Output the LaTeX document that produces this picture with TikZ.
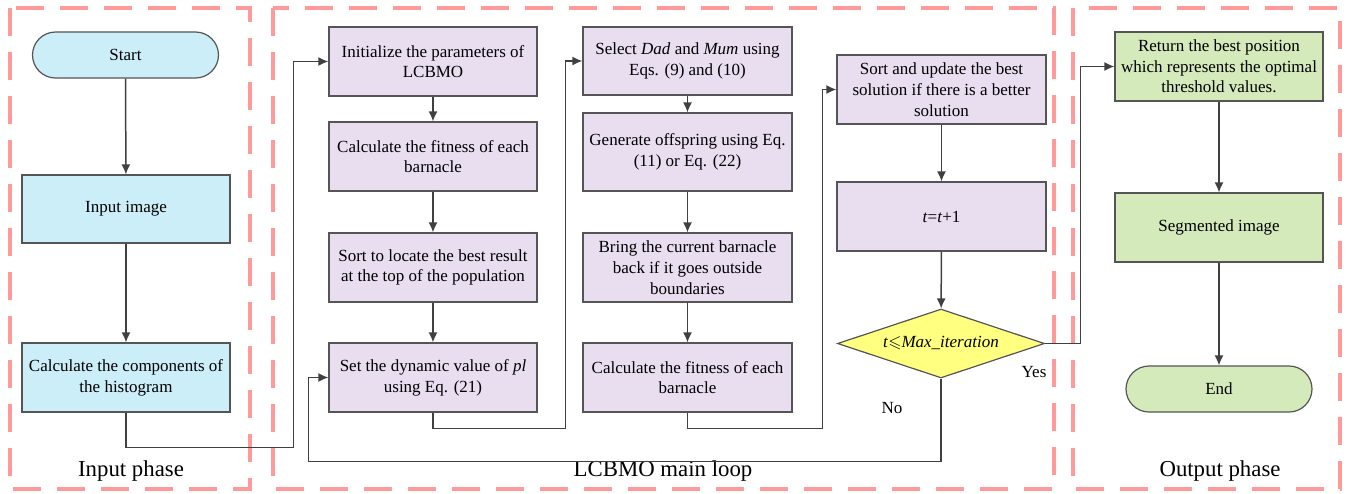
\documentclass[tikz,border=0pt]{standalone}
\usepackage{fontspec}
\setmainfont{Liberation Serif}
\usepackage{amssymb}
\usetikzlibrary{arrows.meta,shapes.geometric}

\definecolor{phasered}{HTML}{FF9A9A}
\definecolor{inblue}{HTML}{CCEEF9}
\definecolor{looplilac}{HTML}{E8DEF0}
\definecolor{outgreen}{HTML}{D5EABB}
\definecolor{condyellow}{HTML}{FFFF80}
\definecolor{boxgray}{HTML}{555555}
\definecolor{linegray}{HTML}{404040}

\tikzset{
  phase/.style={draw=phasered, line width=4pt, dash pattern=on 28pt off 16pt},
  phaselabel/.style={font=\fontsize{22.8}{26}\selectfont},
  procbox/.style={draw=boxgray, line width=1.2pt, minimum width=208pt, minimum height=69pt,
    inner sep=0pt, align=center, font=\fontsize{17}{20.7}\selectfont},
  termbox/.style={procbox, minimum width=186pt, minimum height=46pt, rounded corners=23pt},
  condbox/.style={procbox, shape=diamond, aspect=3, fill=condyellow, minimum width=207pt, minimum height=69pt},
  flow/.style={draw=linegray, line width=1.5pt, -{Latex[length=10pt,width=9pt]}},
  flowlabel/.style={font=\fontsize{17}{20.7}\selectfont}
}

\begin{document}
\begin{tikzpicture}[x=1pt, y=-1pt]
  \useasboundingbox (0,0) rectangle (1348,493);

  % phases
  \draw[phase] (10,8) rectangle (250,489);
  \draw[phase] (273,8) rectangle (1054,489);
  \draw[phase] (1073,8) rectangle (1340,489);
  \node[phaselabel] (inlab) at (131,471) {Input phase};
  \node[phaselabel] (looplab) at (663,471) {LCBMO main loop};
  \node[phaselabel] (outlab) at (1220,471) {Output phase};

  % input phase
  \node[termbox, fill=inblue] (start) at (125.5,55) {Start};
  \node[procbox, fill=inblue, minimum height=68pt] (inimg) at (126,209) {Input image};
  \node[procbox, fill=inblue] (hist) at (126,377.5) {Calculate the components of\\the histogram};

  % main loop
  \node[procbox, fill=looplilac] (init) at (433,61.5) {Initialize the parameters of\\LCBMO};
  \node[procbox, fill=looplilac] (fita) at (433,156.5) {Calculate the fitness of each\\barnacle};
  \node[procbox, fill=looplilac] (sorttop) at (433,267.5) {Sort to locate the best result\\at the top of the population};
  \node[procbox, fill=looplilac] (setpl) at (433,377.5) {Set the dynamic value of \textit{pl}\\using Eq. (21)};

  \node[procbox, fill=looplilac, minimum width=209pt, minimum height=68pt] (sel) at (687.5,61) {Select \textit{Dad} and \textit{Mum} using\\Eqs. (9) and (10)};
  \node[procbox, fill=looplilac, minimum width=209pt, minimum height=78pt] (gen) at (687.5,152) {Generate offspring using Eq.\\(11) or Eq. (22)};
  \node[procbox, fill=looplilac, minimum width=209pt] (bring) at (687.5,267.5) {Bring the current barnacle\\back if it goes outside\\boundaries};
  \node[procbox, fill=looplilac, minimum width=209pt] (fitb) at (687.5,377.5) {Calculate the fitness of each\\barnacle};

  \node[procbox, fill=looplilac, minimum width=209pt] (upd) at (941.5,89.5) {Sort and update the best\\solution if there is a better\\solution};
  \node[procbox, fill=looplilac, minimum width=209pt] (inc) at (941.5,216.5) {\textit{t}=\textit{t}+1};
  \node[condbox] (cond) at (941,343.5) {\textit{t}$\leqslant$\textit{Max\_iteration}};

  % output phase
  \node[procbox, fill=outgreen] (ret) at (1219,66.5) {Return the best position\\which represents the optimal\\threshold values.};
  \node[procbox, fill=outgreen] (seg) at (1219,227.5) {Segmented image};
  \node[termbox, fill=outgreen] (fin) at (1219,389) {End};

  % connectors
  \draw[flow] (start) -- (inimg);
  \draw[flow] (inimg) -- (hist);
  \draw[flow] (hist.south) -- ++(0,35) -| ([xshift=-35pt]init.west) -- (init.west);

  \draw[flow] (init) -- (fita);
  \draw[flow] (fita) -- (sorttop);
  \draw[flow] (sorttop) -- (setpl);
  \draw[flow] (setpl.south) -- ++(0,16) -| ([xshift=-17pt]sel.west) -- (sel.west);

  \draw[flow] (sel) -- (gen);
  \draw[flow] (gen) -- (bring);
  \draw[flow] (bring) -- (fitb);
  \draw[flow] (fitb.south) -- ++(0,16) -| ([xshift=-14pt]upd.west) -- (upd.west);

  \draw[flow] (upd) -- (inc);
  \draw[flow] (inc) -- (cond);
  \draw[flow] (cond.south) -- ++(0,83) -| ([xshift=-20pt]setpl.west) -- (setpl.west);
  \draw[flow] (cond.east) -| ([xshift=-34pt]ret.west) -- (ret.west);

  \draw[flow] (ret) -- (seg);
  \draw[flow] (seg) -- (fin);

  \node[flowlabel] (yes) at (1034,372) {Yes};
  \node[flowlabel] (no) at (892,408) {No};
\end{tikzpicture}
\end{document}
